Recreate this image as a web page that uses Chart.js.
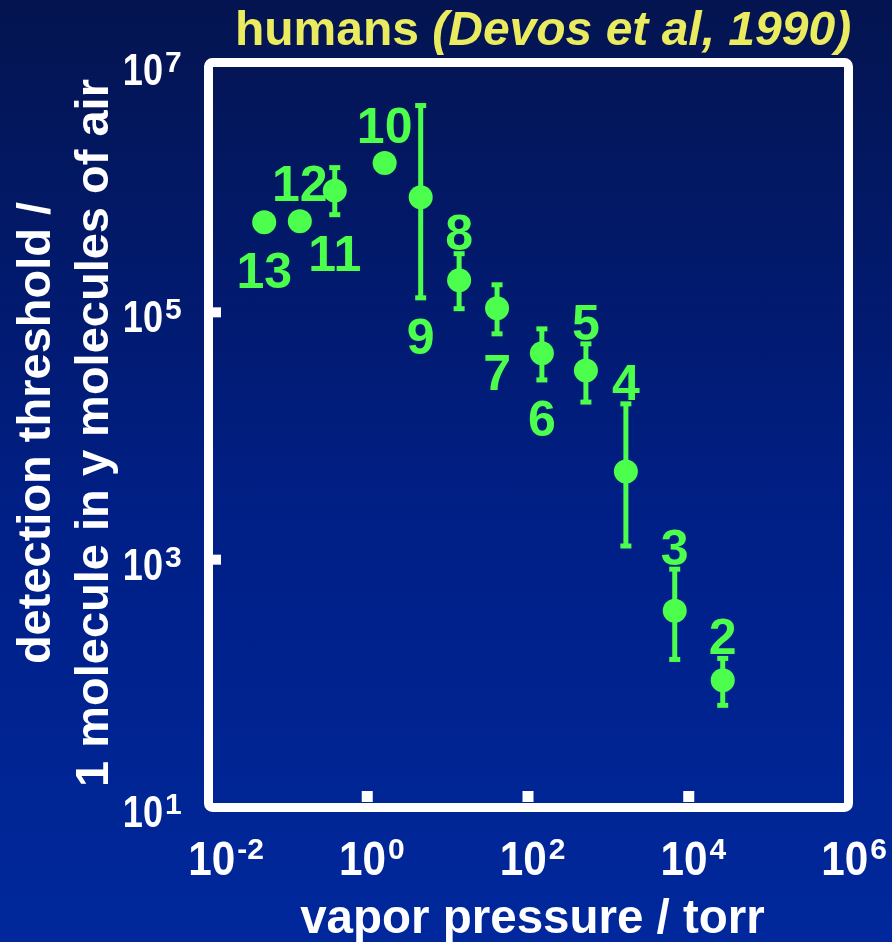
<!DOCTYPE html>
<html>
<head>
<meta charset="utf-8">
<script src="https://cdn.jsdelivr.net/npm/chart.js@4"></script>
<style>
	html, body {
		margin: 0;
		padding: 0;
		width: 892px;
		height: 942px;
		overflow: hidden;
		background: linear-gradient(to bottom, #041450 0%, #001f86 55%, #00289c 100%);
	}
	#chart {
		display: block;
	}
</style>
</head>
<body>
<canvas id="chart" width="892" height="942"></canvas>
<script>
// compound numbers, ordered by vapor pressure
const compounds = ["13", "12", "11", "10", "9", "8", "7", "6", "5", "4", "3", "2"];
// vapor pressure / torr
const vaporPressure = [0.053, 0.147, 0.4, 1.67, 4.69, 14.1, 41.8, 151, 533, 1675, 6790, 26850];
// detection threshold (1 molecule in y molecules of air)
const threshold = [5.36e5, 5.46e5, 9.64e5, 1.61e6, 8.53e5, 1.82e5, 1.08e5, 4.66e4, 3.39e4, 5.16e3, 386, 106];
const errHigh = [null, null, 1.48e6, null, 4.7e6, 2.98e5, 1.67e5, 7.35e4, 5.56e4, 1.82e4, 838, 159];
const errLow = [null, null, 6.16e5, null, 1.31e5, 1.07e5, 6.7e4, 2.84e4, 1.88e4, 1290, 156, 66.4];
// where the compound number sits
const labelSide = ["below", "above", "below", "above", "below", "above", "below", "below", "above", "above", "above", "above"];
// axis ticks (exponents of 10)
const xTickExps = [-2, 0, 2, 4, 6];
const yTickExps = [1, 3, 5, 7];

const GREEN = "#4dff4d";
const YELLOW = "#ebeb5f";
const FONT = "'Liberation Sans', Arial, sans-serif";

function drawPow(ctx, exp, x, baseline, size, supSize, sx, align) {
	// "10" with a raised exponent; the base is squeezed a little horizontally
	ctx.font = "bold " + size + "px " + FONT;
	const wBase = ctx.measureText("10").width * sx;
	ctx.font = "bold " + supSize + "px " + FONT;
	const wExp = ctx.measureText(String(exp)).width;
	let left;
	if (align == "right-base") left = x - wBase;
	else left = x - (wBase + wExp + 2) / 2;
	ctx.save();
	ctx.textAlign = "left";
	ctx.textBaseline = "alphabetic";
	ctx.save();
	ctx.translate(left, baseline);
	ctx.scale(sx, 1);
	ctx.font = "bold " + size + "px " + FONT;
	ctx.fillText("10", 0, 0);
	ctx.restore();
	ctx.font = "bold " + supSize + "px " + FONT;
	ctx.fillText(String(exp), left + wBase + 2, baseline - size * 0.716 + supSize * 0.716 - 3);
	ctx.restore();
}

const decorations = {
	id: "decorations",
	beforeDatasetsDraw(chart) {
		const { ctx, chartArea: { left, right, top, bottom }, scales: { x, y } } = chart;
		ctx.save();
		// frame
		ctx.strokeStyle = "#ffffff";
		ctx.lineWidth = 9;
		ctx.lineJoin = "round";
		ctx.beginPath();
		ctx.roundRect(left + 2.5, top - 2.5, right - left - 3, bottom - top + 3, 4);
		ctx.stroke();
		// inner tick marks
		ctx.fillStyle = "#ffffff";
		xTickExps.slice(1, -1).forEach((e) => {
			const px = x.getPixelForValue(Math.pow(10, e));
			ctx.fillRect(px - 5, bottom - 16, 11, 11);
		});
		yTickExps.slice(1, -1).forEach((e) => {
			const py = y.getPixelForValue(Math.pow(10, e));
			ctx.fillRect(left + 6, py - 5, 9, 10);
		});
		// error bars
		ctx.strokeStyle = GREEN;
		ctx.fillStyle = GREEN;
		ctx.lineWidth = 5;
		for (let i = 0; i < compounds.length; i++) {
			if (errHigh[i] == null) continue;
			const px = x.getPixelForValue(vaporPressure[i]);
			const pHi = y.getPixelForValue(errHigh[i]);
			const pLo = y.getPixelForValue(errLow[i]);
			ctx.beginPath();
			ctx.moveTo(px, pHi);
			ctx.lineTo(px, pLo);
			ctx.stroke();
			ctx.fillRect(px - 5.5, pHi - 2.5, 11, 5);
			ctx.fillRect(px - 5.5, pLo - 2.5, 11, 5);
		}
		ctx.restore();
	},
	afterDraw(chart) {
		const { ctx, chartArea: { left, right, top, bottom }, scales: { x, y } } = chart;
		ctx.save();
		// compound numbers
		ctx.fillStyle = GREEN;
		ctx.font = "bold 50px " + FONT;
		ctx.textAlign = "center";
		ctx.textBaseline = "alphabetic";
		for (let i = 0; i < compounds.length; i++) {
			const px = x.getPixelForValue(vaporPressure[i]);
			const py = y.getPixelForValue(threshold[i]);
			let cy;
			if (labelSide[i] == "above") {
				cy = errHigh[i] != null ? y.getPixelForValue(errHigh[i]) - 22 : py - 12 - 26;
			} else {
				cy = errLow[i] != null ? y.getPixelForValue(errLow[i]) + 38 : py + 12 + 36;
			}
			ctx.fillText(compounds[i], px, cy + 18);
		}
		// tick labels
		ctx.fillStyle = "#ffffff";
		xTickExps.forEach((e, k) => {
			const px = x.getPixelForValue(Math.pow(10, e));
			drawPow(ctx, e == -2 ? "-2" : e, px + (k == 0 ? 20 : 5), bottom + 68, 48, 30, 0.88, "center");
		});
		yTickExps.forEach((e) => {
			const py = y.getPixelForValue(Math.pow(10, e));
			drawPow(ctx, e, left - 43, py + 20, 44, 30, 0.82, "right-base");
		});
		// axis titles
		ctx.font = "bold 47.5px " + FONT;
		ctx.textAlign = "center";
		ctx.fillText("vapor pressure / torr", (left + right) / 2 + 5, bottom + 126);
		ctx.save();
		ctx.translate(0, (top + bottom) / 2 - 3);
		ctx.rotate(-Math.PI / 2);
		ctx.font = "bold 47px " + FONT;
		ctx.fillText("detection threshold /", 0, 50);
		ctx.fillText("1 molecule in y molecules of air", 0, 108);
		ctx.restore();
		// title
		ctx.fillStyle = YELLOW;
		ctx.textAlign = "left";
		ctx.font = "bold 48px " + FONT;
		const t1 = "humans ";
		const w1 = ctx.measureText(t1).width;
		ctx.font = "italic bold 48px " + FONT;
		const t2 = "(Devos et al, 1990)";
		const w2 = ctx.measureText(t2).width;
		const tx = 543 - (w1 + w2) / 2;
		ctx.font = "bold 48px " + FONT;
		ctx.fillText(t1, tx, 45);
		ctx.font = "italic bold 48px " + FONT;
		ctx.fillText(t2, tx + w1, 45);
		ctx.restore();
	},
};

new Chart(document.getElementById("chart"), {
	type: "scatter",
	data: {
		labels: compounds,
		datasets: [
			{
				data: vaporPressure.map((v, i) => ({ x: v, y: threshold[i] })),
				backgroundColor: GREEN,
				borderWidth: 0,
				pointRadius: 12,
				pointHoverRadius: 12,
				clip: false,
			},
		],
	},
	plugins: [decorations],
	options: {
		responsive: false,
		devicePixelRatio: 1,
		animation: false,
		events: [],
		layout: {
			padding: { left: 206, right: 43, top: 65, bottom: 135 },
		},
		plugins: {
			legend: { display: false },
			tooltip: { enabled: false },
		},
		scales: {
			x: {
				type: "logarithmic",
				min: 0.01,
				max: 1e6,
				display: false,
			},
			y: {
				type: "logarithmic",
				min: 10,
				max: 1e7,
				display: false,
			},
		},
	},
});
</script>
</body>
</html>
